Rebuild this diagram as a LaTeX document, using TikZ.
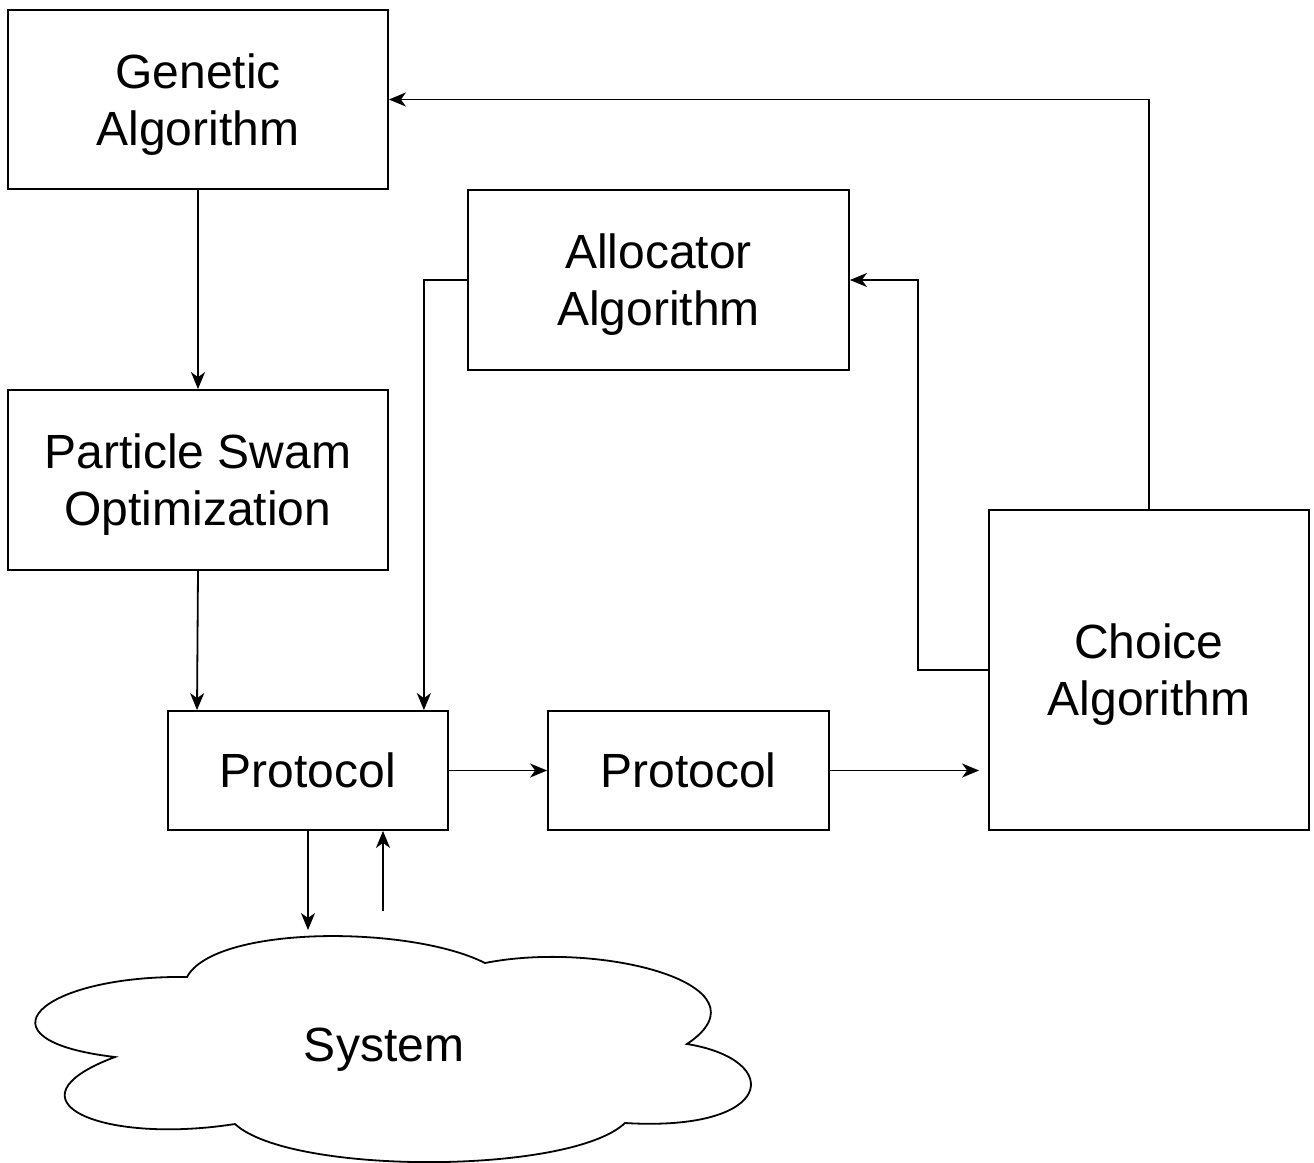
\documentclass[tikz,border=0pt]{standalone}
\usepackage{fontspec}
\setmainfont{Liberation Sans}
\usetikzlibrary{arrows.meta}
\tikzset{
  label font/.style={font=\fontsize{48}{57}\selectfont, text depth=0pt},
  block/.style={draw, line width=1.8pt, rectangle, inner sep=0pt, align=center,
    label font},
  arr/.style={line width=1.8pt, -{Stealth[length=17pt,width=14pt,inset=5pt]}},
  cloudline/.style={line width=1.8pt, line join=miter}
}
\begin{document}
\begin{tikzpicture}[x=1pt,y=-1pt]
\useasboundingbox (0,0) rectangle (1314,1162);

% boxes
\node[block, minimum width=380pt, minimum height=179pt] (ga) at (198,99.5) {Genetic\\Algorithm};
\node[block, minimum width=380pt, minimum height=180pt] (pso) at (198,480) {Particle Swam\\Optimization};
\node[block, minimum width=381pt, minimum height=180pt] (alloc) at (658.5,280) {Allocator\\Algorithm};
\node[block, minimum width=280pt, minimum height=119pt] (p1) at (308,770.5) {Protocol};
\node[block, minimum width=281pt, minimum height=119pt] (p2) at (688.5,770.5) {Protocol};
\node[block, minimum width=320pt, minimum height=320pt] (choice) at (1149,670) {Choice\\Algorithm};

% cloud outline
\draw[cloudline] (187,977)
  .. controls (215,925) and (410,925) .. (485,963)
  .. controls (600,940) and (775,985) .. (687,1044)
  .. controls (785,1060) and (775,1132) .. (625,1123)
  .. controls (570,1175) and (290,1175) .. (235,1124)
  .. controls (100,1145) and (0,1100) .. (115,1057)
  .. controls (-30,1040) and (40,975) .. (187,977) -- cycle;
\node[label font] (sys) at (384,1045) {System};
\coordinate (systop) at (308,930);
\coordinate (sysout) at (383,911);

% connectors
\draw[arr] (ga.south) -- (pso.north);
\draw[arr] (pso.south) -- ([xshift=-111pt]p1.north);
\draw[arr] (alloc.west) -| ([xshift=-25pt]p1.north east);
\draw[arr] (p1.east) -- (p2.west);
\draw[arr, shorten >=9pt] (p2.east) -- (choice.west |- p2.east);
\draw[arr] (choice.west) -- ++(-70,0) |- (alloc.east);
\draw[arr] (choice.north) |- (ga.east);
\draw[arr] (p1.south) -- (systop);
\draw[arr] (sysout) -- (sysout |- p1.south);
\end{tikzpicture}
\end{document}
